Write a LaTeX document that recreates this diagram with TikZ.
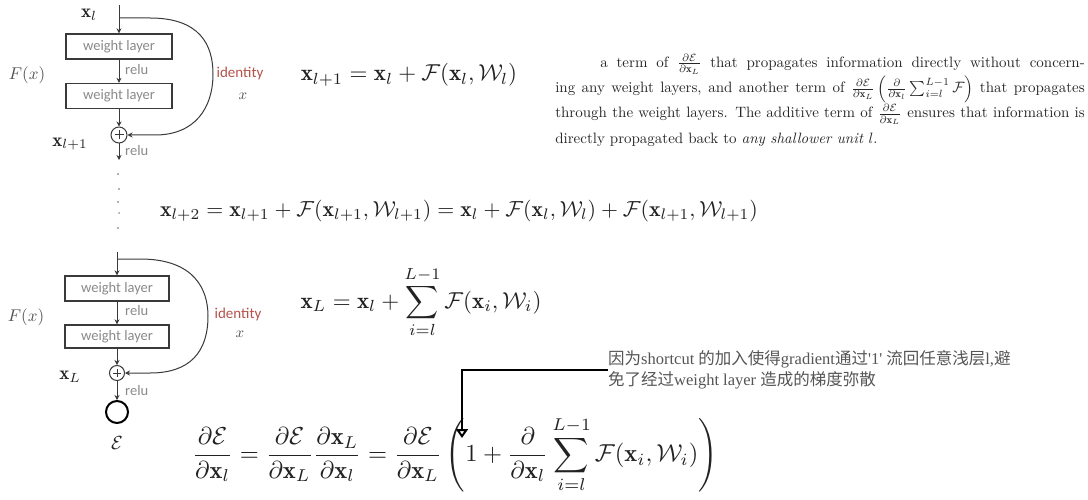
\documentclass[tikz,border=0pt]{standalone}
\usepackage{amsmath}
\usepackage{fontspec}
\newfontfamily\cjk{Noto Sans CJK SC}
\newfontfamily\lserif{Liberation Serif}
\newfontfamily\carlito{Carlito}
\usetikzlibrary{arrows.meta}
\definecolor{linegray}{HTML}{3A3A3A}
\definecolor{txtgray}{HTML}{8A8A8A}
\definecolor{idred}{HTML}{B5524A}
\definecolor{labgray}{HTML}{505050}
\definecolor{eqcol}{HTML}{222222}
\definecolor{notegray}{HTML}{555555}
\definecolor{dotgray}{HTML}{9A9A9A}
\newcommand{\myfs}[1]{\fontsize{#1}{#1}\selectfont}
\begin{document}
\begin{tikzpicture}[x=1pt,y=-1pt,
  wl/.style={draw=linegray,line width=1.3pt,minimum width=106pt,minimum height=25pt,inner sep=0pt,font=\carlito\myfs{14.5},text=txtgray},
  lbl/.style={font=\carlito\myfs{14.5},text=txtgray,inner sep=0pt,anchor=west},
  idl/.style={font=\carlito\myfs{15},text=idred,inner sep=0pt},
  mlab/.style={text=eqcol,inner sep=0pt,scale=1.9,transform shape},
  flab/.style={text=labgray,inner sep=0pt,scale=1.7,transform shape},
  conn/.style={draw=linegray,line width=1pt},
  arr/.style={conn,-{Stealth[length=5pt,width=5pt]}},
  plusc/.style={circle,draw=linegray,line width=1pt,minimum size=16pt,inner sep=0pt},
  plusbar/.style={draw=linegray,line width=1pt},
  eq/.style={text=eqcol,inner sep=0pt,transform shape},
  note/.style={text=notegray,inner sep=0pt,align=left,font=\myfs{16.5}},
  callout/.style={draw=black,line width=2.5pt,-{Triangle[open,length=9pt,width=12pt,line width=2pt]}}
]
\fill[white] (0,0) rectangle (1088,500);
\useasboundingbox (0,0) rectangle (1088,500);

% ---------- top residual block ----------
\coordinate (t1) at (119,5);
\coordinate (b1) at (119,18);
\node[wl] (w1) at (119,46.5) {weight layer};
\node[wl] (w2) at (119,96) {weight layer};
\node[plusc] (p1) at (119,135) {};
\coordinate (o1) at (119,160);
\draw[plusbar] (p1.center) +(-4.5,0) -- +(4.5,0) +(0,-4.5) -- +(0,4.5);
\draw[arr] (t1) -- (w1);
\draw[arr] (w1) -- (w2);
\draw[arr] (w2) -- (p1);
\draw[arr] (p1) -- (o1);
\draw[arr] (b1) -- (150,18) .. controls (200,18) and (213,45) .. (213,74)
  .. controls (213,108) and (195,135) .. (155,135) -- (p1.east);
\node[lbl] (r1) at (125,70) {relu};
\node[lbl] (r2) at (125,151) {relu};
\node[mlab] (xl) at (89,15) {$\mathbf{x}_l$};
\node[mlab] (xl1) at (70,144) {$\mathbf{x}_{l+1}$};
\node[flab] (f1) at (27,75) {$F(x)$};
\node[idl] (id1) at (240,74) {identity};
\node[flab,scale=0.88] (ix1) at (243,96) {$x$};

% ---------- dots ----------
\fill[dotgray] (118,174) circle (1.2);
\fill[dotgray] (119,189) circle (1.2);
\fill[dotgray] (118,202) circle (1.2);
\fill[dotgray] (119,213) circle (1.0);
\fill[dotgray] (118,228) circle (1.2);

% ---------- bottom residual block ----------
\coordinate (t2) at (117,252);
\coordinate (b2) at (117,259);
\node[wl,minimum width=104pt] (w3) at (117,288.5) {weight layer};
\node[wl,minimum width=104pt,minimum height=23pt] (w4) at (117,336.5) {weight layer};
\node[plusc,minimum size=15pt] (p2) at (117,373) {};
\draw[plusbar] (p2.center) +(-4,0) -- +(4,0) +(0,-4) -- +(0,4);
\node[circle,draw=black,line width=2pt,minimum size=22pt,inner sep=0pt] (ec) at (117,412) {};
\draw[arr] (t2) -- (w3);
\draw[arr] (w3) -- (w4);
\draw[arr] (w4) -- (p2);
\draw[arr] (p2) -- (ec);
\draw[arr] (b2) -- (140,259) .. controls (195,259) and (208,290) .. (208,316)
  .. controls (208,352) and (190,373) .. (150,373) -- (p2.east);
\node[lbl] (r3) at (125,311) {relu};
\node[lbl] (r4) at (125,391) {relu};
\node[mlab] (xL) at (70,377) {$\mathbf{x}_L$};
\node[flab] (f2) at (26,317) {$F(x)$};
\node[idl] (id2) at (238,315) {identity};
\node[flab,scale=0.88] (ix2) at (240,334) {$x$};
\node[mlab] (E) at (117,443) {$\mathcal{E}$};

% ---------- equations ----------
\node[eq,scale=2.3] (e1) at (409,75) {$\mathbf{x}_{l+1}=\mathbf{x}_l+\mathcal{F}(\mathbf{x}_l,\mathcal{W}_l)$};
\node[eq,scale=2.18] (e2) at (459,211) {$\mathbf{x}_{l+2}=\mathbf{x}_{l+1}+\mathcal{F}(\mathbf{x}_{l+1},\mathcal{W}_{l+1})=\mathbf{x}_l+\mathcal{F}(\mathbf{x}_l,\mathcal{W}_l)+\mathcal{F}(\mathbf{x}_{l+1},\mathcal{W}_{l+1})$};
\node[eq,scale=2.3] (e3) at (421,302) {$\displaystyle\mathbf{x}_L=\mathbf{x}_l+\sum_{i=l}^{L-1}\mathcal{F}(\mathbf{x}_i,\mathcal{W}_i)$};
\node[eq,scale=2.45] (e4) at (455,455) {$\displaystyle\frac{\partial\mathcal{E}}{\partial\mathbf{x}_l}=\frac{\partial\mathcal{E}}{\partial\mathbf{x}_L}\frac{\partial\mathbf{x}_L}{\partial\mathbf{x}_l}=\frac{\partial\mathcal{E}}{\partial\mathbf{x}_L}\left(1+\frac{\partial}{\partial\mathbf{x}_l}\sum_{i=l}^{L-1}\mathcal{F}(\mathbf{x}_i,\mathcal{W}_i)\right)$};

% ---------- paragraph ----------
\node[eq,scale=1.5,text=black!85,anchor=north west,text width=353pt,align=justify,font=\fontsize{10}{16.8}\selectfont] (par) at (555,54) {\hspace*{30pt}a term of $\frac{\partial\mathcal{E}}{\partial\mathbf{x}_L}$ that propagates information directly without concern-\linebreak ing any weight layers, and another term of $\frac{\partial\mathcal{E}}{\partial\mathbf{x}_L}\left(\frac{\partial}{\partial\mathbf{x}_l}\sum_{i=l}^{L-1}\mathcal{F}\right)$ that propagates\linebreak through the weight layers. The additive term of $\frac{\partial\mathcal{E}}{\partial\mathbf{x}_L}$ ensures that information is\linebreak directly propagated back to \emph{any shallower unit} $l$.};

% ---------- Chinese note and callout ----------
\node[note,anchor=west] (cn) at (608,370) {{\cjk 因为}{\lserif shortcut }{\cjk 的加入使得}{\lserif gradient}{\cjk 通过}{\lserif '1' }{\cjk 流回任意浅层}{\lserif l,}{\cjk 避}\\[2pt]{\cjk 免了经过}{\lserif weight layer }{\cjk 造成的梯度弥散}};
\coordinate (tip) at (462,438);
\draw[callout] (cn.west) -| (tip);
\end{tikzpicture}
\end{document}
